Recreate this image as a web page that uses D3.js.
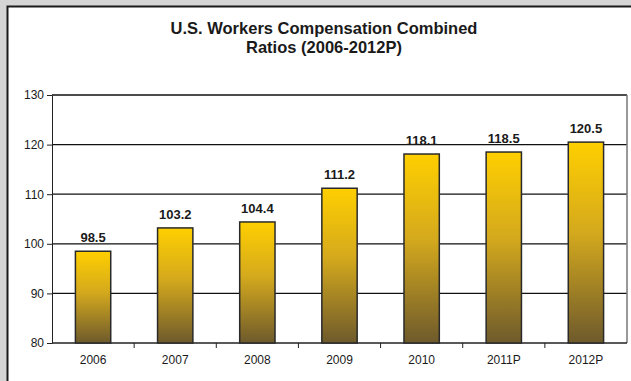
<!DOCTYPE html>
<meta charset="utf-8">
<title>U.S. Workers Compensation Combined Ratios</title>
<style>
body { margin: 0; background: #d5d5d5; }
svg { display: block; }
text { font-family: "Liberation Sans", Arial, sans-serif; fill: #1a1a1a; }
.title { font-size: 16.5px; font-weight: bold; }
.val { font-size: 13px; font-weight: bold; }
.axis text { font-size: 12px; }
.axis path, .axis line { stroke: #222; }
.grid line { stroke: #111; stroke-width: 1.3px; }
.bar { stroke: #2a2a2a; stroke-width: 1.5px; }
</style>
<svg width="631" height="381"></svg>
<script src="https://d3js.org/d3.v7.min.js"></script>
<script>

var years = ["2006", "2007", "2008", "2009", "2010", "2011P", "2012P"];
var ratios = [98.5, 103.2, 104.4, 111.2, 118.1, 118.5, 120.5];
var yTicks = [80, 90, 100, 110, 120, 130];

var svg = d3.select("svg"),
    margin = {top: 95, right: 4, bottom: 38, left: 52},
    width = +svg.attr("width") - margin.left - margin.right,
    height = +svg.attr("height") - margin.top - margin.bottom;

// white panel with dark border running off the right and bottom
svg.append("rect")
    .attr("x", 7.5).attr("y", 6.5)
    .attr("width", 640).attr("height", 400)
    .attr("fill", "#fff")
    .attr("stroke", "#1a1a1a")
    .attr("stroke-width", 2);

svg.append("text").attr("class", "title")
    .attr("x", 324).attr("y", 34).attr("text-anchor", "middle")
    .text("U.S. Workers Compensation Combined");
svg.append("text").attr("class", "title")
    .attr("x", 324).attr("y", 53).attr("text-anchor", "middle")
    .text("Ratios (2006-2012P)");

var defs = svg.append("defs");
var grad = defs.append("linearGradient")
    .attr("id", "barGrad")
    .attr("x1", 0).attr("y1", 0).attr("x2", 0).attr("y2", 1);
grad.append("stop").attr("offset", "0%").attr("stop-color", "#ffcf00");
grad.append("stop").attr("offset", "45%").attr("stop-color", "#d4a91d");
grad.append("stop").attr("offset", "100%").attr("stop-color", "#6e5a2c");

var x = d3.scaleBand().domain(years).range([0, width]).paddingInner(0.57).paddingOuter(0.285),
    y = d3.scaleLinear().domain([80, 130]).range([height, 0]);

var g = svg.append("g")
    .attr("transform", "translate(" + margin.left + "," + margin.top + ")");

// gridlines
g.append("g").attr("class", "grid")
    .selectAll("line")
    .data(yTicks.slice(1))
    .enter().append("line")
    .attr("x1", 0).attr("x2", width)
    .attr("y1", function(d) { return y(d); })
    .attr("y2", function(d) { return y(d); });

// right edge of plot area
g.append("line")
    .attr("x1", width).attr("x2", width)
    .attr("y1", 0).attr("y2", height)
    .attr("stroke", "#777").attr("stroke-width", 1.5);

g.append("g")
    .attr("class", "axis axis--y")
    .call(d3.axisLeft(y).tickValues(yTicks).tickSize(5).tickSizeOuter(0).tickPadding(3));

// x axis: ticks between categories
var xAxis = g.append("g")
    .attr("class", "axis axis--x")
    .attr("transform", "translate(0," + height + ")");
xAxis.append("line")
    .attr("x1", 0).attr("x2", width)
    .attr("stroke", "#222").attr("stroke-width", 1.3);
xAxis.selectAll(".sep")
    .data(years.slice(1))
    .enter().append("line")
    .attr("class", "sep")
    .attr("x1", function(d) { return x(d) - x.step() * x.paddingInner() / 2; })
    .attr("x2", function(d) { return x(d) - x.step() * x.paddingInner() / 2; })
    .attr("y1", 0).attr("y2", 5);
xAxis.selectAll(".lbl")
    .data(years)
    .enter().append("text")
    .attr("class", "lbl")
    .attr("x", function(d) { return x(d) + x.bandwidth() / 2; })
    .attr("y", 21)
    .attr("text-anchor", "middle")
    .text(function(d) { return d; });

g.selectAll(".bar")
    .data(ratios)
    .enter().append("rect")
    .attr("class", "bar")
    .attr("x", function(d, i) { return x(years[i]); })
    .attr("y", function(d) { return y(d); })
    .attr("width", x.bandwidth())
    .attr("height", function(d) { return height - y(d); })
    .attr("fill", "url(#barGrad)");

g.selectAll(".val")
    .data(ratios)
    .enter().append("text")
    .attr("class", "val")
    .attr("x", function(d, i) { return x(years[i]) + x.bandwidth() / 2; })
    .attr("y", function(d) { return y(d) - 9; })
    .attr("text-anchor", "middle")
    .text(function(d) { return d.toFixed(1); });

</script>
